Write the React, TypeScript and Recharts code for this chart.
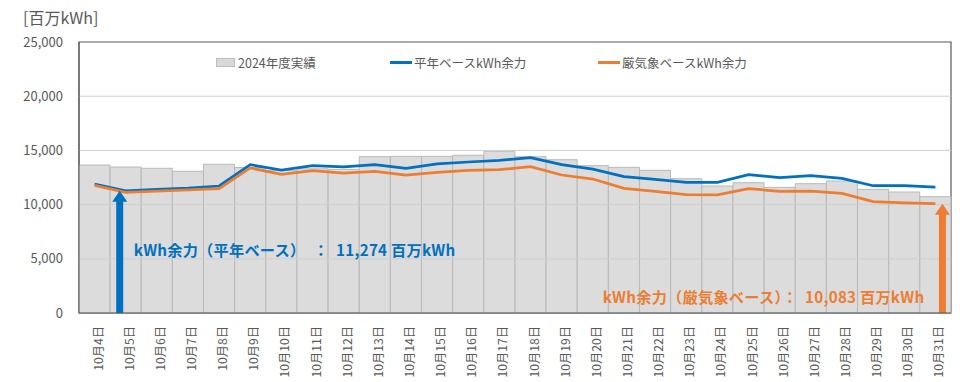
import { Bar, ComposedChart, Line, ReferenceArea, ReferenceLine, XAxis, YAxis } from "recharts";

const FONT = '"Noto Sans CJK JP", "Noto Sans", sans-serif';
const BLUE = "#0070c0";
const ORANGE = "#ed7d31";

const dates = [
  "10月4日", "10月5日", "10月6日", "10月7日", "10月8日", "10月9日", "10月10日",
  "10月11日", "10月12日", "10月13日", "10月14日", "10月15日", "10月16日", "10月17日",
  "10月18日", "10月19日", "10月20日", "10月21日", "10月22日", "10月23日", "10月24日",
  "10月25日", "10月26日", "10月27日", "10月28日", "10月29日", "10月30日", "10月31日",
];

// 2024年度実績
const actual2024 = [
  13650, 13470, 13350, 13070, 13720, 13420, 13150, 13300, 13250, 14420, 14450, 14450, 14550, 14920,
  14420, 14140, 13590, 13440, 13160, 12390, 11720, 12020, 11590, 11930, 12180, 11410, 11160, 10730,
];

// 平年ベースkWh余力
const normalBase = [
  11900, 11274, 11410, 11530, 11715, 13680, 13190, 13590, 13470, 13680, 13350, 13750, 13930, 14080,
  14330, 13680, 13280, 12580, 12330, 12050, 12050, 12760, 12480, 12670, 12420, 11740, 11740, 11620,
];

// 厳気象ベースkWh余力
const severeBase = [
  11780, 11130, 11250, 11350, 11470, 13380, 12790, 13130, 12910, 13070, 12730, 12980, 13160, 13220,
  13500, 12730, 12360, 11500, 11230, 10910, 10890, 11470, 11230, 11250, 11040, 10270, 10150, 10083,
];

const yTicks = [0, 5000, 10000, 15000, 20000, 25000];
const gridValues = [5000, 10000, 15000, 20000];

const legendItems = [
  { label: "2024年度実績", kind: "box", color: "#d9d9d9", left: 216 },
  { label: "平年ベースkWh余力", kind: "line", color: BLUE, left: 390 },
  { label: "厳気象ベースkWh余力", kind: "line", color: ORANGE, left: 598 },
];

const data = dates.map((date, i) => ({
  date,
  actual: actual2024[i],
  normal: normalBase[i],
  severe: severeBase[i],
}));

const minNormal = Math.min(...normalBase);
const minSevere = Math.min(...severeBase);
const minNormalDate = dates[normalBase.indexOf(minNormal)];
const minSevereDate = dates[severeBase.indexOf(minSevere)];

const fmt = (v: number) => v.toLocaleString("en-US");

function DateTick({ x, y, payload }: any) {
  const tx = x + 3;
  const ty = y + 11;
  return (
    <text
      x={tx}
      y={ty}
      transform={`rotate(-90 ${tx} ${ty})`}
      textAnchor="end"
      dominantBaseline="central"
      fontSize={12.2}
      fill="#595959"
      fontFamily={FONT}
    >
      {payload.value}
    </text>
  );
}

function arrowShape(color: string, shift: number, label: string, labelDx: number, labelDy: number, anchor: "start" | "end") {
  return (p: any) => {
    const x = p.x1 + shift;
    const top = Math.min(p.y1, p.y2);
    const bottom = Math.max(p.y1, p.y2);
    const head = 11;
    const hw = 7.5;
    const sw = 3.5;
    const d = `M${x},${top} L${x + hw},${top + head} L${x + sw},${top + head} L${x + sw},${bottom} L${x - sw},${bottom} L${x - sw},${top + head} L${x - hw},${top + head} Z`;
    return (
      <g>
        <path d={d} fill={color} />
        <text
          x={x + labelDx}
          y={bottom + labelDy}
          textAnchor={anchor}
          dominantBaseline="central"
          fontSize={15.2}
          fontWeight="bold"
          letterSpacing={0.25}
          fill={color}
          fontFamily={FONT}
          style={{ whiteSpace: "pre" }}
        >
          {label}
        </text>
      </g>
    );
  };
}

export default function App() {
  return (
    <div style={{ position: "absolute", left: 0, top: 0, width: 960, height: 382, background: "#fff", fontFamily: FONT }}>
      <div style={{ position: "absolute", left: 23, top: 5, fontSize: 16, color: "#595959", lineHeight: "24px" }}>
        [百万kWh]
      </div>
      {legendItems.map((item) => (
        <div
          key={item.label}
          style={{
            position: "absolute",
            left: item.left,
            top: 52,
            height: 20,
            display: "flex",
            alignItems: "center",
            fontSize: 12.5,
            color: "#595959",
            zIndex: 2,
          }}
        >
          {item.kind === "box" ? (
            <span style={{ width: 17, height: 7, background: item.color, border: "1px solid #bfbfbf", marginRight: 3 }} />
          ) : (
            <span style={{ width: 22, height: 3, background: item.color, marginRight: 2 }} />
          )}
          {item.label}
        </div>
      ))}
      <ComposedChart
        width={960}
        height={382}
        data={data}
        margin={{ top: 42, right: 9, left: 0, bottom: 0 }}
        barCategoryGap={0}
      >
        <XAxis
          dataKey="date"
          height={69}
          interval={0}
          tickLine={false}
          tickSize={0}
          axisLine={{ stroke: "#595959" }}
          tick={<DateTick />}
        />
        <YAxis
          width={79}
          domain={[0, 25000]}
          ticks={yTicks}
          tickFormatter={fmt}
          tickLine={false}
          tickSize={0}
          tickMargin={16}
          axisLine={{ stroke: "#595959" }}
          tick={{ fontSize: 13, fill: "#595959", fontFamily: FONT }}
        />
        <Bar dataKey="actual" fill="#dcdcdc" stroke="#b9b9b9" strokeWidth={1} isAnimationActive={false} />
        {gridValues.map((v) => (
          <ReferenceLine key={v} y={v} stroke="#cfcfcf" strokeWidth={1} />
        ))}
        <ReferenceArea
          x1={dates[0]}
          x2={dates[dates.length - 1]}
          y1={0}
          y2={25000}
          fill="none"
          fillOpacity={0}
          stroke="#595959"
          strokeWidth={1.2}
        />
        <Line dataKey="normal" stroke={BLUE} strokeWidth={2.75} dot={false} activeDot={false} isAnimationActive={false} />
        <Line dataKey="severe" stroke={ORANGE} strokeWidth={2.75} dot={false} activeDot={false} isAnimationActive={false} />
        <ReferenceLine
          segment={[{ x: minNormalDate, y: 0 }, { x: minNormalDate, y: minNormal }]}
          shape={arrowShape(BLUE, -6, `kWh余力（平年ベース）　：  ${fmt(minNormal)} 百万kWh`, 14, -64, "start")}
        />
        <ReferenceLine
          segment={[{ x: minSevereDate, y: 0 }, { x: minSevereDate, y: minSevere }]}
          shape={arrowShape(ORANGE, 7, `kWh余力（厳気象ベース）：  ${fmt(minSevere)} 百万kWh`, -18, -17, "end")}
        />
      </ComposedChart>
    </div>
  );
}
